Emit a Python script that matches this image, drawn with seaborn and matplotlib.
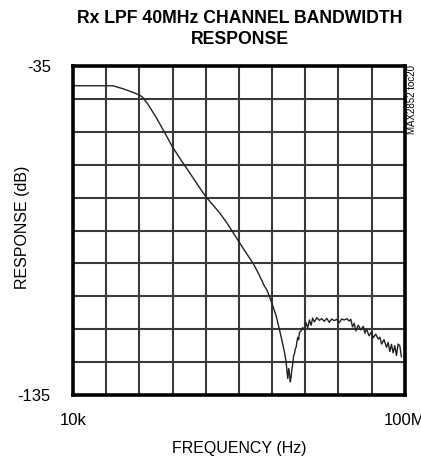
import numpy as np
import pandas as pd
import matplotlib
matplotlib.use("Agg")
import matplotlib.pyplot as plt
import seaborn as sns

# log10(frequency in Hz) and response in dB
log_freq = [4.00, 4.20, 4.40, 4.48, 4.60, 4.70, 4.80, 4.84, 4.90, 5.00, 5.10,
            5.20, 5.30, 5.40, 5.50, 5.61, 5.70, 5.77, 5.85, 5.93, 6.01, 6.09, 6.17,
            6.24, 6.30, 6.34, 6.37, 6.41, 6.45, 6.49, 6.52, 6.55, 6.57, 6.58, 6.59,
            6.60, 6.61, 6.62, 6.63, 6.64, 6.65, 6.66, 6.67, 6.68, 6.69, 6.70, 6.71,
            6.72, 6.73, 6.75, 6.77, 6.79, 6.81, 6.83, 6.85, 6.87, 6.89, 6.91, 6.94,
            6.97, 7.00, 7.03, 7.06, 7.09, 7.12, 7.15, 7.18, 7.21, 7.24, 7.27, 7.30,
            7.33, 7.35, 7.37, 7.39, 7.41, 7.44, 7.47, 7.50, 7.52, 7.54, 7.57, 7.60,
            7.62, 7.65, 7.68, 7.70, 7.72, 7.75, 7.78, 7.80, 7.82, 7.84, 7.86, 7.88,
            7.90, 7.92, 7.94, 7.96]
response_db = [-41.0, -41.0, -41.0, -41.0, -41.9, -42.8, -43.8, -44.5, -46.5, -50.5, -55.0,
               -59.6, -63.5, -67.2, -71.0, -75.0, -77.6, -79.7, -82.5, -85.6, -88.8, -91.9, -94.9,
               -98.2, -101.5, -103.2, -105.2, -108.0, -111.0, -115.2, -118.5, -122.0, -125.0, -127.8, -130.0,
               -127.0, -128.5, -131.0, -129.5, -127.0, -125.5, -123.0, -122.5, -121.0, -120.5, -118.8, -117.5,
               -118.2, -116.0, -115.5, -114.5, -115.2, -113.0, -114.6, -112.2, -113.8, -111.6, -112.8, -111.5,
               -112.3, -111.8, -112.6, -111.7, -112.9, -111.9, -112.4, -112.0, -113.0, -111.9, -112.2, -111.8,
               -112.5, -112.0, -114.3, -113.2, -115.5, -113.8, -115.2, -114.1, -116.2, -115.0, -117.0, -115.8,
               -117.6, -116.5, -118.0, -117.4, -119.5, -118.2, -120.5, -119.0, -121.8, -119.6, -122.2, -120.0,
               -123.0, -119.5, -120.0, -123.4]

x_tick_labels = ["10k", "100M"]
y_tick_labels = ["-35", "-135"]

df = pd.DataFrame({"freq": 10 ** np.array(log_freq), "resp": response_db})

sns.set_theme(style="white")
plt.rcParams['font.family'] = ['Liberation Sans Narrow', 'Liberation Sans', 'DejaVu Sans']
plt.rcParams['text.color'] = 'black'
plt.rcParams['axes.labelcolor'] = 'black'

fig = plt.figure(figsize=(4.21, 4.59), dpi=100)
ax = fig.add_axes([0.1734, 0.1394, 0.788, 0.7168])

sns.lineplot(data=df, x="freq", y="resp", ax=ax, color="#222222", linewidth=1.0)

ax.set_xscale("log")
ax.set_xlim(1e4, 1e8)
ax.set_ylim(-135, -35)

gx = 10 ** np.linspace(4, 8, 11)
gy = np.linspace(-135, -35, 11)
for v in gx[1:-1]:
    ax.axvline(v, color="#3a3a3a", lw=1.5, zorder=0)
for v in gy[1:-1]:
    ax.axhline(v, color="#3a3a3a", lw=1.5, zorder=0)

ax.set_xticks([1e4, 1e8])
ax.set_xticks([], minor=True)
ax.set_xticklabels(x_tick_labels)
ax.set_yticks([-35, -135])
ax.set_yticklabels(y_tick_labels)
ax.tick_params(axis="both", length=0, labelsize=12, colors="black", labelcolor="black")
ax.tick_params(axis="y", pad=16)
ax.tick_params(axis="x", pad=13)

for s in ax.spines.values():
    s.set_color("black")
    s.set_linewidth(2.6)

ax.set_xlabel("FREQUENCY (Hz)", fontsize=11.5, labelpad=9, color="black")
ax.set_ylabel("RESPONSE (dB)", fontsize=11.5, color="black")
ax.yaxis.set_label_coords(-0.13, 0.51)

fig.text(0.57, 0.978, "Rx LPF 40MHz CHANNEL BANDWIDTH\nRESPONSE", ha="center", va="top",
         fontsize=12.7, fontweight="bold", linespacing=1.3, color="black")
fig.text(0.978, 0.858, "MAX2852 toc20", rotation=90, ha="center", va="top", fontsize=7, color="black")

fig.savefig("out.png", dpi=100)
